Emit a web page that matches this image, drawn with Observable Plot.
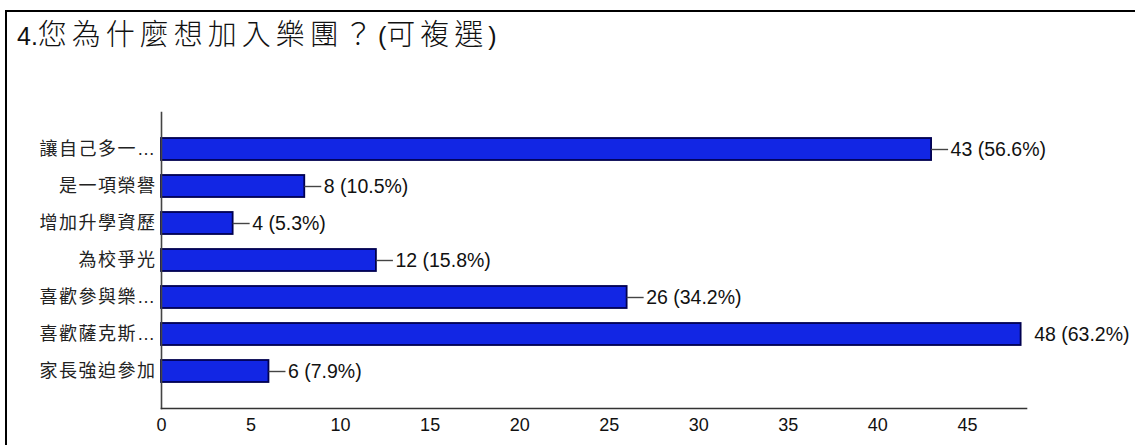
<!DOCTYPE html>
<html>
<head>
<meta charset="utf-8">
<script src="https://cdn.jsdelivr.net/npm/d3@7"></script>
<script src="https://cdn.jsdelivr.net/npm/@observablehq/plot@0.6"></script>
<style>
  html, body { margin: 0; padding: 0; background: #fff; width: 1135px; height: 445px; overflow: hidden; }
  #wrap { position: relative; width: 1135px; height: 445px; }
  #box { position: absolute; left: 5px; top: 10px; width: 1300px; height: 600px; border-top: 2px solid #000; border-left: 2px solid #000; }
  #title { position: absolute; left: 17px; top: 21px; font-family: "Liberation Sans", "Noto Sans CJK TC", sans-serif; font-size: 25px; line-height: 28px; color: #111; white-space: nowrap; }
  #title .cjk { font-size: 29px; letter-spacing: 5px; font-weight: 300; }
  #chart { position: absolute; left: 0; top: 0; }
  #chart svg g[aria-label="y-axis tick label"] text { font-size: 18px; letter-spacing: 1.5px; fill: #222; }
  #chart svg g[aria-label="x-axis tick label"] text { font-size: 18px; fill: #111; }
</style>
</head>
<body>
<div id="wrap">
  <div id="box"></div>
  <div id="title">4.<span class="cjk">您為什麼想加入樂團？</span>(<span class="cjk">可複選</span>)</div>
  <div id="chart"></div>
</div>
<script>
const categories = ["讓自己多一…", "是一項榮譽", "增加升學資歷", "為校爭光", "喜歡參與樂…", "喜歡薩克斯…", "家長強迫參加"];
const counts = [43, 8, 4, 12, 26, 48, 6];
const percents = ["56.6%", "10.5%", "5.3%", "15.8%", "34.2%", "63.2%", "7.9%"];
const xTicks = [0, 5, 10, 15, 20, 25, 30, 35, 40, 45];

const data = categories.map((c, i) => ({cat: c, v: counts[i], p: percents[i]}));
const maxV = d3.max(counts);
const withDash = data.filter(d => d.v !== maxV);
const noDash = data.filter(d => d.v === maxV);
const dashLen = 0.95;

const chart = Plot.plot({
  width: 1135,
  height: 445,
  marginLeft: 161,
  marginRight: 109,
  marginTop: 112,
  marginBottom: 37,
  style: {fontFamily: "Liberation Sans, Noto Sans CJK TC, sans-serif", fontSize: "18px", color: "#111", background: "transparent"},
  x: {domain: [0, 48.3], ticks: xTicks, label: null},
  y: {domain: categories, paddingInner: 0.41, paddingOuter: 0.7, label: null},
  marks: [
    Plot.axisX({ticks: xTicks, tickSize: 0, tickPadding: 10, fontSize: 18, fill: "#111", label: null}),
    Plot.axisY({tickSize: 0, tickPadding: 5, fontSize: 18, fill: "#222", label: null}),
    Plot.barX(data, {y: "cat", x: "v", fill: "#1226e4", stroke: "#000050", strokeWidth: 1.8}),
    Plot.ruleY(withDash, {y: "cat", x1: "v", x2: d => d.v + dashLen, stroke: "#444", strokeWidth: 1.4}),
    Plot.text(withDash, {y: "cat", x: d => d.v + dashLen, text: d => `${d.v} (${d.p})`, textAnchor: "start", dx: 2, fontSize: 19.5, fill: "#111"}),
    Plot.text(noDash, {y: "cat", x: "v", text: d => `${d.v} (${d.p})`, textAnchor: "start", dx: 13, fontSize: 19.5, fill: "#111"}),
    Plot.frame({anchor: "left", stroke: "#444", strokeWidth: 1.6}),
    Plot.frame({anchor: "bottom", stroke: "#333", strokeWidth: 1.6})
  ]
});
document.getElementById("chart").appendChild(chart);
</script>
</body>
</html>
